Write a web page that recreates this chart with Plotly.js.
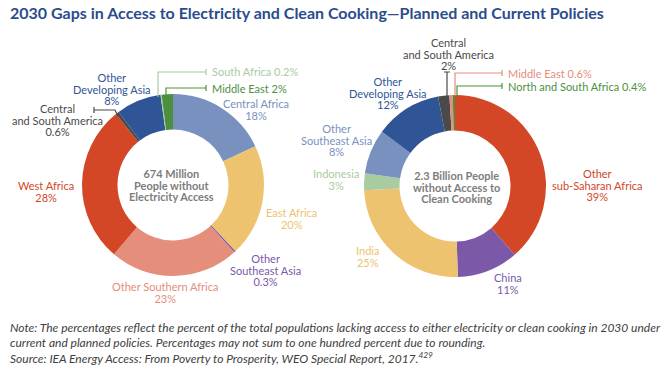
<!DOCTYPE html>
<html><head><meta charset="utf-8">
<script src="https://cdn.plot.ly/plotly-3.0.1.min.js"></script>
<style>html,body{margin:0;padding:0;background:#fff}#chart{width:668px;height:375px}</style>
</head><body><div id="chart"></div>
<script>
// ---- Data ----
const elecLabels = ["Central Africa","East Africa","Other Southeast Asia","Other Southern Africa","West Africa","Central and South America","Other Developing Asia","South Africa","Middle East"];
const elecValues = [18, 20, 0.3, 23, 28, 0.6, 8, 0.2, 2];
const elecColors = ["#7891bf","#edc36f","#7b59a8","#e58e7b","#d34727","#4a4a4a","#2f5597","#a8cba0","#4d8f3f"];
const elecLabelLines = [["Central Africa"],["East Africa"],["Other","Southeast Asia"],["Other Southern Africa"],["West Africa"],["Central","and South America"],["Other","Developing Asia"],["South Africa"],["Middle East"]];
const elecInline = [false,false,false,false,false,false,false,true,true];

const cookLabels = ["Other sub-Saharan Africa","China","India","Indonesia","Other Southeast Asia","Other Developing Asia","Central and South America","Middle East","North and South Africa"];
const cookValues = [39, 11, 25, 3, 8, 12, 2, 0.6, 0.4];
const cookColors = ["#d34727","#7b59a8","#edc36f","#a8cba0","#7891bf","#2f5597","#4a4a4a","#e58e7b","#4d8f3f"];
const cookLabelLines = [["Other","sub-Saharan Africa"],["China"],["India"],["Indonesia"],["Other","Southeast Asia"],["Other","Developing Asia"],["Central","and South America"],["Middle East"],["North and South Africa"]];
const cookInline = [false,false,false,false,false,false,false,true,true];

const elecCenter = ["674 Million","People without","Electricity Access"];
const cookCenter = ["2.3 Billion People","without Access to","Clean Cooking"];
const titleText = "2030 Gaps in Access to Electricity and Clean Cooking\u2014Planned and Current Policies";
const noteLines = [
 "Note: The percentages reflect the percent of the total populations lacking access to either electricity or clean cooking in 2030 under",
 "current and planned policies. Percentages may not sum to one hundred percent due to rounding.",
 "Source: IEA Energy Access: From Poverty to Prosperity, WEO Special Report, 2017.<sup>429</sup>"
];

// ---- Layout helpers ----
const W = 668, H = 375;
const px = x => x / W, py = y => 1 - y / H;
const FONT = "Lato, 'Open Sans', sans-serif";
const LS = 11.5;          // line spacing of labels, px
const BASE = LS / 1.3;    // annotation base size so that Plotly's 1.3em line step = LS

// label positions (pixel): [x, firstLineY, anchor]
const elecLabelPos = [[256,104,'center'],[291,213,'center'],[265,258,'center'],[165,287,'center'],[46,186,'center'],[57,108,'center'],[112,77,'center'],[210,72,'left'],[210,88,'left']];
const cookLabelPos = [[597,174,'center'],[508,278,'center'],[367,251,'center'],[336,174,'center'],[337,128,'center'],[388,81,'center'],[448,42,'center'],[506,73,'left'],[506,86,'left']];

const annotations = [];
function addBlock(x, y0, lines, anchor, color, bold, size) {
  const txt = lines.map(t => "<span style='font-size:" + size + "px'>" + (bold ? "<b>"+t+"</b>" : t) + "</span>").join("<br>");
  const yc = y0 + (lines.length - 1) * LS / 2;
  annotations.push({xref:'paper', yref:'paper', x:px(x), y:py(yc), xanchor:anchor, yanchor:'middle', align:anchor==='left'?'left':'center',
    text:txt, showarrow:false, font:{family:FONT, size:BASE, color:color}});
}
function addText(x, y, text, anchor, font) {
  annotations.push({xref:'paper', yref:'paper', x:px(x), y:py(y), xanchor:anchor, yanchor:'middle',
    text:text, showarrow:false, font:font});
}
function addLabels(lines, values, colors, inline, pos) {
  lines.forEach((ls, i) => {
    const pct = values[i] + "%";
    const all = inline[i] ? [ls[0] + " " + pct] : ls.concat([pct]);
    const [x, y, a] = pos[i];
    addBlock(x, y, all, a, colors[i], false, 11);
  });
}
addLabels(elecLabelLines, elecValues, elecColors, elecInline, elecLabelPos);
addLabels(cookLabelLines, cookValues, cookColors, cookInline, cookLabelPos);
addBlock(172, 174, elecCenter, 'center', "#7d7d7d", true, 11);
addBlock(456, 175, cookCenter, 'center', "#7d7d7d", true, 11);
addText(8, 13, "<b>"+titleText+"</b>", 'left', {family:FONT, size:16, color:"#2b4c8c"});
noteLines.forEach((t,k)=>addText(8, 327 + k*15.5, "<i>"+t+"</i>", 'left', {family:FONT, size:12, color:"#404040"}));

// leader lines
const shapes = [];
function leader(pts, tick, color) {
  let d = pts.map((p,i)=>(i?'L':'M')+px(p[0])+','+py(p[1])).join(' ');
  d += ' M'+px(tick[0][0])+','+py(tick[0][1])+' L'+px(tick[1][0])+','+py(tick[1][1]);
  shapes.push({type:'path', xref:'paper', yref:'paper', path:d, line:{color:color, width:1.2}});
}
leader([[158,97],[158,72],[206,72]], [[206,69],[206,75]], elecColors[7]);
leader([[166,95],[166,88],[206,88]], [[206,85],[206,91]], elecColors[8]);
leader([[118,116],[115,110],[94,110]], [[94,107],[94,113]], elecColors[5]);
leader([[447,96],[447,72]], [[444,72],[450,72]], cookColors[6]);
leader([[455,96],[455,73],[502,73]], [[502,70],[502,76]], cookColors[7]);
leader([[457,96],[457,86],[502,86]], [[502,83],[502,89]], cookColors[8]);

const common = {type:'pie', hole:0.61, sort:false, direction:'clockwise', rotation:0,
  textinfo:'none', hoverinfo:'label+percent', showlegend:false};
const data = [
  Object.assign({}, common, {labels:elecLabels, values:elecValues, marker:{colors:elecColors, line:{width:0}},
    domain:{x:[px(82),px(264)], y:[py(276),py(94)]}}),
  Object.assign({}, common, {labels:cookLabels, values:cookValues, marker:{colors:cookColors, line:{width:0}},
    domain:{x:[px(364),px(546)], y:[py(277),py(95)]}})
];
const layout = {width:W, height:H, margin:{l:0,r:0,t:0,b:0}, paper_bgcolor:'#fff', plot_bgcolor:'#fff',
  showlegend:false, annotations:annotations, shapes:shapes, font:{family:FONT}};
Plotly.newPlot('chart', data, layout, {displayModeBar:false, staticPlot:true});
</script></body></html>
